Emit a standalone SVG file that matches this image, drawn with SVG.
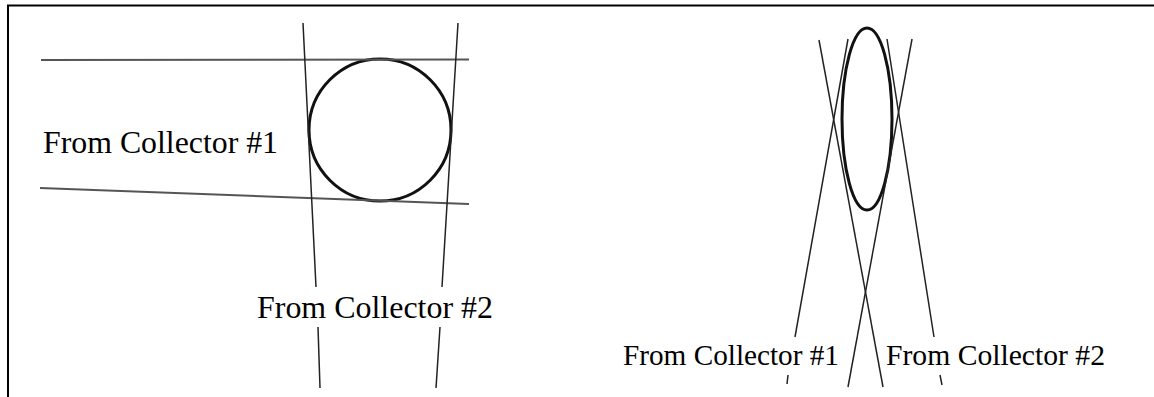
<svg xmlns="http://www.w3.org/2000/svg" width="1154" height="397" viewBox="0 0 1154 397">
<style>
.ln{stroke:#222;stroke-width:1.5;fill:none}
.gl{stroke:#555;stroke-width:2;fill:none}
.sh{stroke:#111;stroke-width:3;fill:none}
.bd{stroke:#000;stroke-width:2;fill:none}
.lb{font-family:"Liberation Serif","Times New Roman",serif;fill:#000}
</style>
<rect width="1154" height="397" fill="#fff"/>
<g id="frame">
<path class="bd" d="M8,398 V5.5 H1155"/>
</g>
<g id="left-view">
<circle id="circle" class="sh" cx="380" cy="130" r="71"/>
<text class="lb" x="43" y="153" font-size="32" textLength="235" lengthAdjust="spacingAndGlyphs">From Collector #1</text>
<text class="lb" x="257" y="318" font-size="32" textLength="236" lengthAdjust="spacingAndGlyphs">From Collector #2</text>
</g>
<g id="right-view">
<ellipse id="ellipse" class="sh" cx="867" cy="119" rx="25" ry="91"/>
<text class="lb" x="623" y="365" font-size="29" textLength="216" lengthAdjust="spacingAndGlyphs">From Collector #1</text>
<text class="lb" x="886" y="365" font-size="29" textLength="219" lengthAdjust="spacingAndGlyphs">From Collector #2</text>
</g>
<g id="connectors">
<path class="gl" d="M41,60 L469,59.5"/>
<path class="gl" d="M40,188 L469,204"/>
<path class="ln" d="M303,23 L316,287 M318,327 L320,388"/>
<path class="ln" d="M458,23 L442,287 M440,327 L436,388"/>
<path class="ln" d="M819,40 L883,387"/>
<path class="ln" d="M912,39 L848,387"/>
<path class="ln" d="M848,39 L795,337 M788,375 L787,384"/>
<path class="ln" d="M887,39 L934,337 M940,375 L942,385"/>
</g>
</svg>
